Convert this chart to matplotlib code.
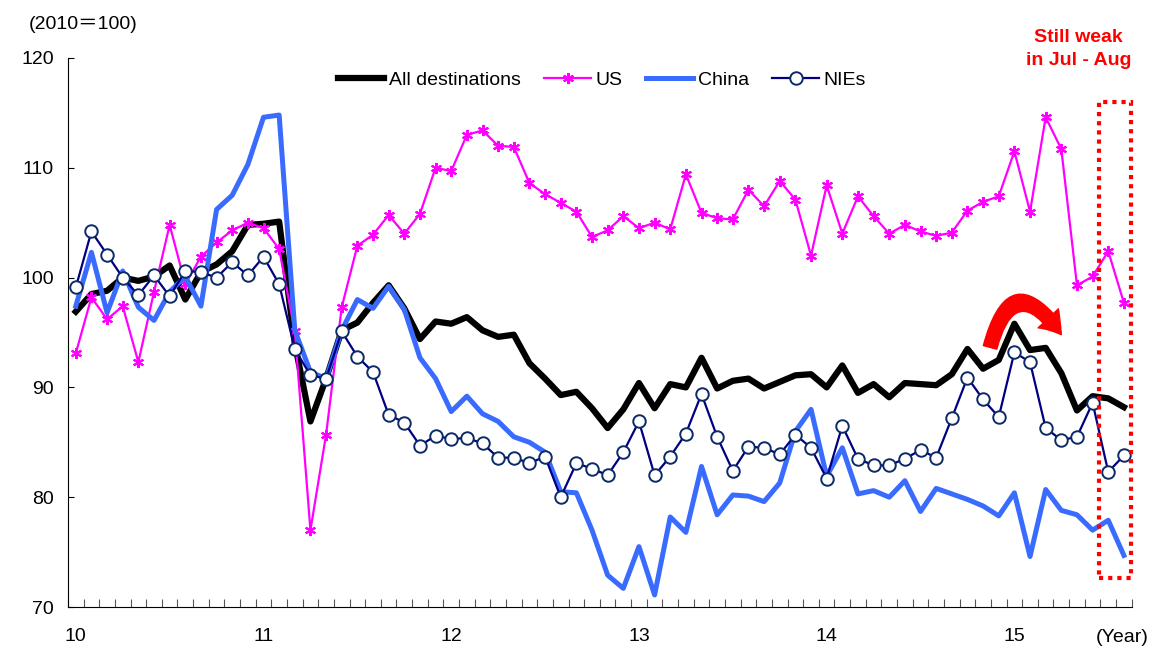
import numpy as np
import matplotlib
matplotlib.use("Agg")
import matplotlib.pyplot as plt
from matplotlib.patches import FancyArrowPatch, Rectangle

plt.rcParams["font.family"] = ["Liberation Sans", "Noto Sans CJK JP", "DejaVu Sans"]
plt.rcParams["font.size"] = 14

# monthly index, Jan 2010 - Aug 2015
all_dest = [96.9, 98.5, 98.8, 100.0, 99.7, 100.1, 101.1, 98.0, 100.5, 101.2,
            102.4, 104.8, 104.9, 105.1, 94.0, 86.9, 90.8, 95.2, 95.9, 97.7,
            99.3, 97.2, 94.4, 96.0, 95.8, 96.4, 95.2, 94.6, 94.8, 92.2,
            90.8, 89.3, 89.6, 88.1, 86.3, 88.0, 90.4, 88.1, 90.3, 90.0,
            92.7, 89.9, 90.6, 90.8, 89.9, 90.5, 91.1, 91.2, 90.0, 92.0,
            89.5, 90.3, 89.1, 90.4, 90.3, 90.2, 91.2, 93.5, 91.7, 92.5,
            95.8, 93.4, 93.6, 91.3, 87.9, 89.2, 89.0, 88.2]
us = [93.1, 98.2, 96.2, 97.4, 92.3, 98.7, 104.8, 99.4, 101.9, 103.2,
      104.3, 105.0, 104.5, 102.6, 95.1, 77.0, 85.7, 97.3, 102.9, 103.9,
      105.7, 104.0, 105.8, 110.0, 109.7, 113.0, 113.4, 112.0, 111.9, 108.6,
      107.6, 106.8, 106.0, 103.7, 104.3, 105.6, 104.5, 105.0, 104.4, 109.4,
      105.9, 105.4, 105.3, 108.0, 106.5, 108.8, 107.1, 102.0, 108.4, 104.0,
      107.4, 105.6, 104.0, 104.8, 104.2, 103.8, 104.1, 106.1, 106.9, 107.4,
      111.5, 106.0, 114.6, 111.7, 99.3, 100.1, 102.4, 97.7]
china = [97.4, 102.3, 96.8, 100.6, 97.3, 96.1, 98.7, 100.1, 97.4, 106.2,
         107.5, 110.3, 114.6, 114.8, 95.2, 91.4, 90.8, 95.2, 98.0, 97.2,
         99.2, 97.1, 92.7, 90.8, 87.8, 89.2, 87.6, 86.9, 85.5, 85.0,
         84.1, 80.5, 80.4, 77.0, 72.9, 71.7, 75.5, 71.1, 78.2, 76.8,
         82.8, 78.4, 80.2, 80.1, 79.6, 81.3, 86.0, 88.0, 81.9, 84.5,
         80.3, 80.6, 80.0, 81.5, 78.7, 80.8, 80.3, 79.8, 79.2, 78.3,
         80.4, 74.6, 80.7, 78.8, 78.4, 77.0, 77.9, 74.7]
nies = [99.1, 104.2, 102.1, 100.0, 98.4, 100.2, 98.3, 100.6, 100.5, 100.0,
        101.4, 100.2, 101.9, 99.4, 93.5, 91.1, 90.8, 95.1, 92.8, 91.4,
        87.5, 86.8, 84.7, 85.6, 85.3, 85.4, 84.9, 83.6, 83.6, 83.1,
        83.7, 80.0, 83.1, 82.6, 82.0, 84.1, 86.9, 82.0, 83.7, 85.8,
        89.4, 85.5, 82.4, 84.6, 84.5, 83.9, 85.7, 84.5, 81.7, 86.5,
        83.5, 82.9, 82.9, 83.5, 84.3, 83.6, 87.2, 90.9, 88.9, 87.3,
        93.2, 92.3, 86.3, 85.2, 85.5, 88.6, 82.3, 83.8]
year_labels = ["10", "11", "12", "13", "14", "15"]

x = np.arange(len(all_dest))

fig = plt.figure(figsize=(11.5, 6.47), dpi=100)
ax = fig.add_axes([0.0591, 0.0618, 0.925, 0.8486])

ax.plot(x, all_dest, color="black", lw=4.5, label="All destinations", zorder=3)
ax.plot(x, us, color="#FF00FF", lw=1.6, marker=(6, 2, 0), ms=8, mew=1.5,
        label="US", zorder=4)
ax.plot(x, china, color="#3A6BFF", lw=3.6, label="China", zorder=5)
ax.plot(x, nies, color="#000080", lw=1.6, marker="o", ms=9, mfc="white",
        mec="#0B2A66", mew=1.4, label="NIEs", zorder=6)

ax.set_xlim(-0.5, 67.5)
ax.set_ylim(70, 120)
ax.set_yticks(range(70, 121, 10))
ax.tick_params(axis="y", direction="in", length=4, pad=10)
ax.set_xticks(np.arange(0, 61, 12))
ax.set_xticklabels(year_labels)
ax.set_xticks(np.arange(-0.5, 67.6, 1), minor=True)
ax.tick_params(axis="x", which="major", length=0, pad=15)
ax.tick_params(axis="x", which="minor", direction="in", length=6, width=0.8,
               color="#555555")
for s in ["top", "right"]:
    ax.spines[s].set_visible(False)

ax.legend(loc="center", bbox_to_anchor=(0.502, 0.96), ncol=4, frameon=False,
          handlelength=2.4, handletextpad=0.25, columnspacing=1.2, fontsize=14)

# red dotted box around Jul-Aug
box = Rectangle((65.4, 72.6), 2.08, 43.4, fill=False, edgecolor="red", lw=3,
                linestyle=(0, (1, 1.2)), clip_on=False, zorder=7)
ax.add_patch(box)

# curved red arrow
arr = FancyArrowPatch((58.4, 93.4), (63.1, 94.6),
                      connectionstyle="arc3,rad=-1.1",
                      arrowstyle="simple,head_length=0.75,head_width=1.0,tail_width=0.5",
                      mutation_scale=20, color="red", zorder=8)
ax.add_patch(arr)

fig.text(0.072, 0.962, "(2010＝100)", ha="center", va="center", fontsize=14)
fig.text(0.976, 0.015, "(Year)", ha="center", va="center", fontsize=14)
fig.text(0.938, 0.924, "Still weak\nin Jul - Aug", ha="center", va="center",
         fontsize=14, fontweight="bold", color="red", linespacing=1.45)

fig.savefig("out.png", dpi=100)
